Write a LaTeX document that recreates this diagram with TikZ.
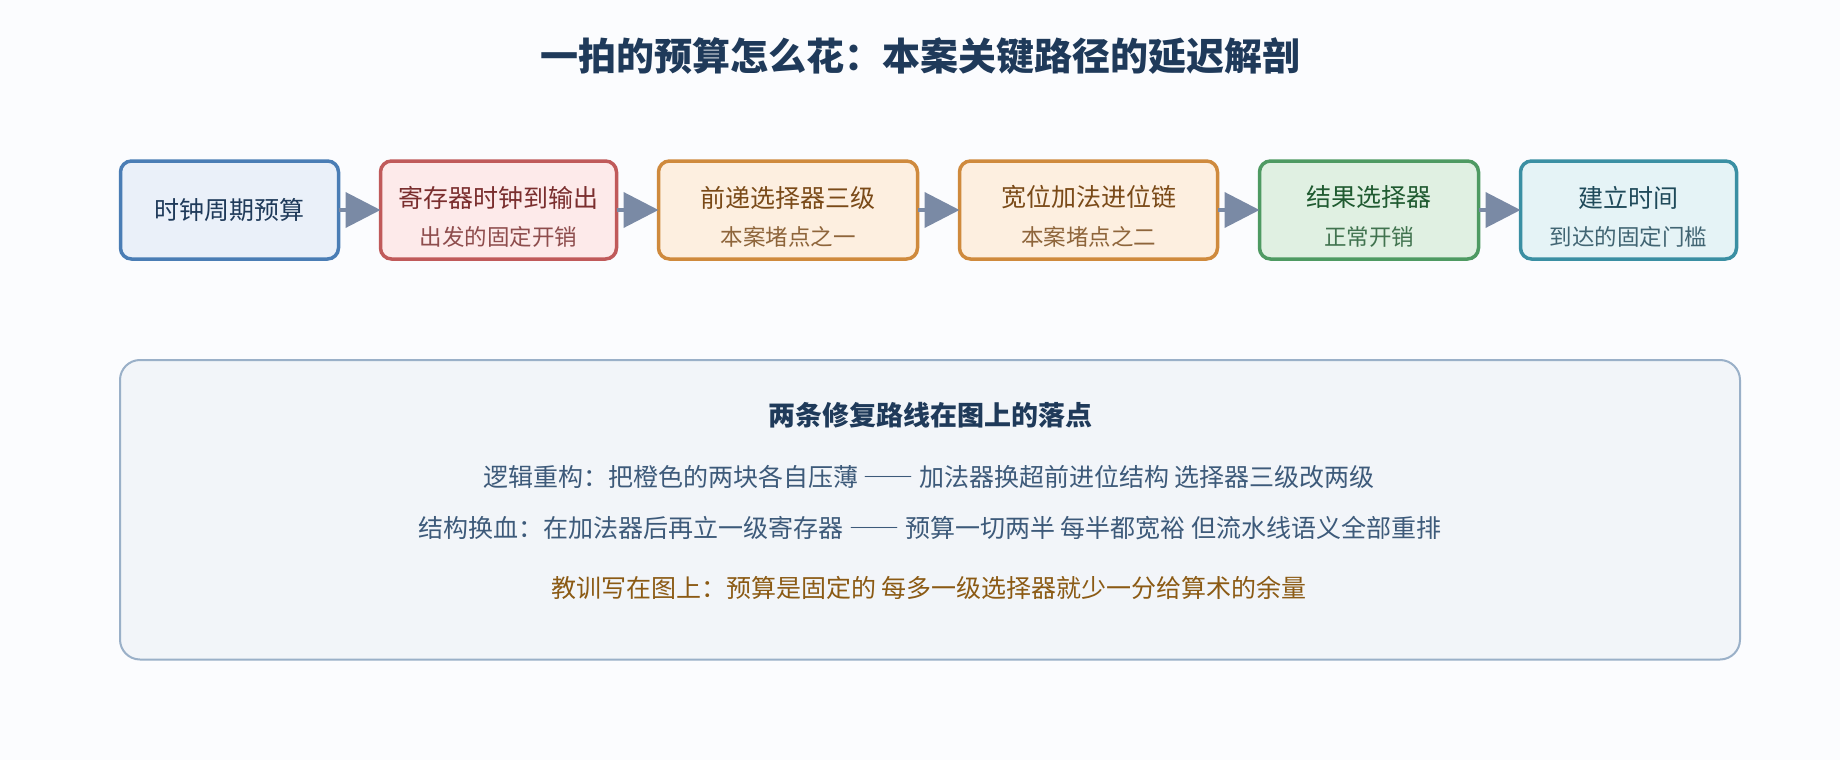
\documentclass[tikz,border=0pt]{standalone}
\usepackage{fontspec}
\setmainfont{Noto Sans CJK SC}
\usetikzlibrary{positioning,arrows.meta}

\definecolor{pagebg}{HTML}{FBFCFE}
\definecolor{navy}{HTML}{1F3A5A}
\definecolor{flowarrow}{HTML}{7A8AA5}
\definecolor{clkline}{HTML}{4A7DB5}
\definecolor{clkfill}{HTML}{EAF0F9}
\definecolor{regline}{HTML}{C05A5A}
\definecolor{regfill}{HTML}{FDEAEA}
\definecolor{regtext}{HTML}{7A2E2E}
\definecolor{hotline}{HTML}{CF8A3D}
\definecolor{hotfill}{HTML}{FDEFE0}
\definecolor{hottext}{HTML}{7A4A18}
\definecolor{okline}{HTML}{4E9A62}
\definecolor{okfill}{HTML}{E0F0E2}
\definecolor{oktext}{HTML}{1F5A30}
\definecolor{setline}{HTML}{3A8FA3}
\definecolor{setfill}{HTML}{E5F3F6}
\definecolor{settext}{HTML}{1F4A5A}
\definecolor{noteline}{HTML}{9AB0C8}
\definecolor{notefill}{HTML}{F2F5F9}
\definecolor{notetext}{HTML}{3D5A7A}
\definecolor{lessontext}{HTML}{8B5A14}

% full-width dash pair
\newcommand{\longdash}{{\addfontfeature{CharacterWidth=Full}——}}

\tikzset{
  stagebox/.style={draw, line width=3.5pt, rounded corners=11pt, minimum height=98pt,
    inner sep=0pt, outer sep=0pt},
  maintxt/.style={font=\fontsize{25}{30}\selectfont, inner sep=0pt},
  subtxt/.style={font=\fontsize{22.5}{27}\selectfont, inner sep=0pt},
  flow/.style={line width=4pt, draw=flowarrow, -{Triangle[length=35pt, width=35pt]}},
  panel/.style={draw=noteline, fill=notefill, line width=2pt, rounded corners=20pt,
    inner sep=0pt, outer sep=0pt},
  notetxt/.style={font=\fontsize{25}{30}\selectfont, inner sep=0pt},
}

\begin{document}
\begin{tikzpicture}[x=1pt, y=1pt]
  % Parameters
  \def\gap{42pt}   % Gap between stages
  \def\up{12.5}    % Main line above box centre
  \def\dn{26.5}    % Second line below box centre
  % Page
  \fill[pagebg] (0,0) rectangle (1840,-760);
  % Title
  \node[font=\fontsize{38}{44}\selectfont\bfseries, text=navy] (title) at (920,-56)
    {一拍的预算怎么花：本案关键路径的延迟解剖};
  % Stages
  \node[stagebox, draw=clkline, fill=clkfill, minimum width=218pt] (clk) at (229.5,-210) {};
  \node[stagebox, draw=regline, fill=regfill, minimum width=236pt, right=\gap of clk] (reg) {};
  \node[stagebox, draw=hotline, fill=hotfill, minimum width=259pt, right=\gap of reg] (fwd) {};
  \node[stagebox, draw=hotline, fill=hotfill, minimum width=258pt, right=\gap of fwd] (add) {};
  \node[stagebox, draw=okline, fill=okfill, minimum width=219pt, right=\gap of add] (sel) {};
  \node[stagebox, draw=setline, fill=setfill, minimum width=216pt, right=\gap of sel] (setup) {};
  % Stage texts
  \node[maintxt, text=navy] (clkmain) at (clk.center) {时钟周期预算};
  \node[maintxt, text=regtext] (regmain) at ([yshift=\up]reg.center) {寄存器时钟到输出};
  \node[subtxt, text=regtext!85!white] (regsub) at ([yshift=-\dn]reg.center) {出发的固定开销};
  \node[maintxt, text=hottext] (fwdmain) at ([yshift=\up]fwd.center) {前递选择器三级};
  \node[subtxt, text=hottext!85!white] (fwdsub) at ([yshift=-\dn]fwd.center) {本案堵点之一};
  \node[maintxt, text=hottext] (addmain) at ([yshift=\up]add.center) {宽位加法进位链};
  \node[subtxt, text=hottext!85!white] (addsub) at ([yshift=-\dn]add.center) {本案堵点之二};
  \node[maintxt, text=oktext] (selmain) at ([yshift=\up]sel.center) {结果选择器};
  \node[subtxt, text=oktext!85!white] (selsub) at ([yshift=-\dn]sel.center) {正常开销};
  \node[maintxt, text=settext] (setupmain) at ([yshift=\up]setup.center) {建立时间};
  \node[subtxt, text=settext!85!white] (setupsub) at ([yshift=-\dn]setup.center) {到达的固定门槛};
  % Arrows
  \draw[flow] (clk) -- (reg);
  \draw[flow] (reg) -- (fwd);
  \draw[flow] (fwd) -- (add);
  \draw[flow] (add) -- (sel);
  \draw[flow] (sel) -- (setup);
  % Notes panel
  \node[panel, minimum width=1620pt, minimum height=299.5pt] (notes) at (930,-509.75) {};
  \node[font=\fontsize{27}{32}\selectfont\bfseries, text=navy, inner sep=0pt] (notehead)
    at (930,-415) {两条修复路线在图上的落点};
  \node[notetxt, text=notetext] (logicfix) at (929,-477)
    {逻辑重构：把橙色的两块各自压薄 \longdash{} 加法器换超前进位结构 选择器三级改两级};
  \node[notetxt, text=notetext] (pipefix) at (930,-528)
    {结构换血：在加法器后再立一级寄存器 \longdash{} 预算一切两半 每半都宽裕 但流水线语义全部重排};
  \node[notetxt, text=lessontext] (lesson) at (929,-588)
    {教训写在图上：预算是固定的 每多一级选择器就少一分给算术的余量};
\end{tikzpicture}
\end{document}
